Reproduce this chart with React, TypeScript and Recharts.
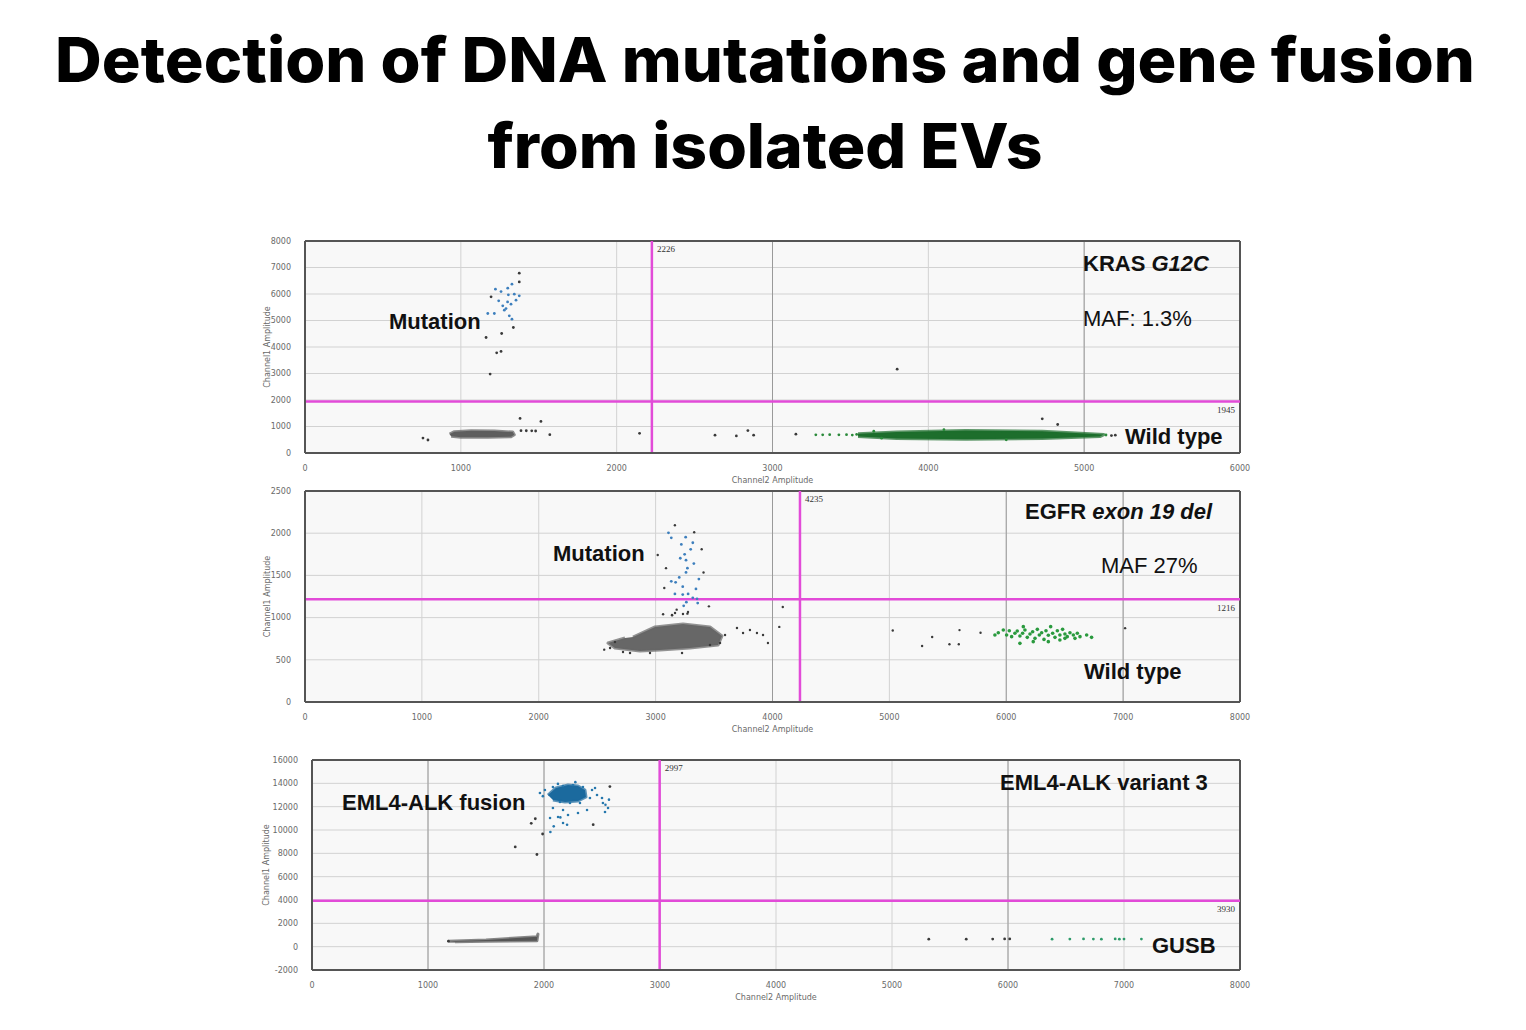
import React from 'react';
import { ScatterChart, Scatter, XAxis, YAxis, CartesianGrid, ReferenceLine } from 'recharts';

type P = [number, number];

// ---- axis ticks ----
const krasXTicks = [0, 1000, 2000, 3000, 4000, 5000, 6000];
const krasYTicks = [0, 1000, 2000, 3000, 4000, 5000, 6000, 7000, 8000];
const egfrXTicks = [0, 1000, 2000, 3000, 4000, 5000, 6000, 7000, 8000];
const egfrYTicks = [0, 500, 1000, 1500, 2000, 2500];
const alkXTicks = [0, 1000, 2000, 3000, 4000, 5000, 6000, 7000, 8000];
const alkYTicks = [-2000, 0, 2000, 4000, 6000, 8000, 10000, 12000, 14000, 16000];

// thresholds [channel2, channel1]
const krasThreshold: P = [2226, 1945];
const egfrThreshold: P = [4235, 1216];
const alkThreshold: P = [2997, 3930];

// ---- KRAS G12C droplets ----
const krasGrayCore: P[] = [
  [928, 716], [959, 804], [1066, 842], [1215, 829], [1333, 791], [1343, 691],
  [1322, 616], [1173, 590], [1002, 590], [938, 628],
];
const krasGrayDots: P[] = [
  [757, 565], [789, 490], [1380, 1306], [1514, 1193], [1386, 842], [1420, 840],
  [1455, 835], [1480, 830], [1571, 691], [2147, 741], [2631, 671], [2768, 646],
  [2842, 848], [2879, 671], [3150, 709], [4731, 1291], [4830, 1076], [3800, 3165],
  [5200, 671], [5175, 658], [1162, 4359], [1230, 3781], [1258, 3832], [1188, 2977],
  [1262, 4510], [1375, 6784], [1375, 6457], [1194, 5892], [1337, 4736],
];
const krasBlueDots: P[] = [
  [1328, 6369], [1301, 6218], [1258, 6093], [1222, 6181], [1305, 5967], [1343, 5992],
  [1375, 5930], [1354, 5766], [1243, 5741], [1269, 5553], [1322, 5616], [1279, 5389],
  [1311, 5176], [1173, 5264], [1215, 5264], [1328, 5050], [1290, 5450], [1300, 5700],
];
const krasGreenCore: P[] = [
  [3549, 722], [3796, 797], [4239, 848], [4732, 823], [4978, 747], [5126, 696],
  [5101, 620], [4732, 544], [4239, 519], [3796, 544], [3549, 620],
];
const krasGreenDots: P[] = [
  [3278, 684], [3322, 684], [3367, 690], [3426, 684], [3475, 690], [3512, 676],
  [3540, 700], [5140, 680], [3650, 820], [3700, 560], [4100, 880], [4500, 500],
];

// ---- EGFR exon 19 del droplets ----
const egfrGrayCore: P[] = [
  [2806, 770], [2995, 889], [3234, 924], [3465, 889], [3568, 782], [3534, 675],
  [3294, 640], [3037, 616], [2866, 604], [2652, 640], [2592, 699], [2738, 758],
];
const egfrGrayDots: P[] = [
  [3140, 1031], [3166, 1055], [3277, 1067], [3234, 1043], [2652, 711], [2721, 592],
  [2781, 581], [2610, 640], [2952, 581], [3226, 581], [3465, 675], [3594, 794],
  [3696, 877], [3748, 818], [3807, 853], [3867, 818], [3919, 794], [3961, 699],
  [3551, 699], [4058, 890], [4088, 1125], [3165, 2094], [3330, 2012], [3018, 1742],
  [3394, 1809], [3089, 1586], [3410, 1535], [3074, 1351], [3456, 1133], [3180, 1094],
  [3141, 1027], [3064, 1039], [3272, 1047], [5029, 848], [5280, 664], [5366, 770],
  [5514, 684], [5600, 852], [5594, 684], [5780, 820], [7017, 875], [2560, 620],
];
const egfrBlueDots: P[] = [
  [3110, 2004], [3257, 1953], [3134, 1945], [3220, 1867], [3318, 1887], [3300, 1809],
  [3248, 1750], [3260, 1680], [3211, 1703], [3327, 1640], [3272, 1586], [3260, 1535],
  [3370, 1457], [3202, 1476], [3134, 1430], [3171, 1418], [3232, 1367], [3345, 1340],
  [3165, 1281], [3232, 1273], [3278, 1281], [3318, 1234], [3354, 1222], [3263, 1183],
  [3360, 1172], [3240, 1140],
];
const egfrGreenDots: P[] = [
  [5903, 794], [5932, 821], [5975, 853], [6003, 794], [6026, 845], [6046, 774],
  [6074, 814], [6094, 841], [6117, 782], [6140, 814], [6160, 853], [6180, 766],
  [6203, 806], [6226, 833], [6246, 754], [6266, 861], [6283, 794], [6303, 821],
  [6323, 742], [6340, 845], [6360, 790], [6380, 893], [6397, 814], [6417, 766],
  [6437, 845], [6459, 794], [6482, 861], [6502, 806], [6522, 774], [6545, 821],
  [6574, 794], [6608, 814], [6631, 774], [6688, 794], [6730, 766], [6146, 893],
  [6360, 715], [6117, 695], [6231, 715], [6459, 735], [6502, 754], [6588, 754],
];

// ---- EML4-ALK variant 3 droplets ----
const alkGrayCore: P[] = [
  [1176, 455], [1500, 580], [1939, 852], [1948, 1080], [1939, 511], [1500, 470], [1233, 426],
];
const alkGrayDots: P[] = [
  [1890, 10568], [1925, 10966], [1988, 9659], [1752, 8551], [1939, 7898], [2568, 13722],
  [2424, 10455], [5317, 640], [5640, 640], [5868, 650], [5971, 660], [6015, 660], [1176, 470],
];
const alkBlueCore: P[] = [
  [2034, 12999], [2103, 13600], [2207, 13857], [2293, 13771], [2353, 13428],
  [2362, 12828], [2293, 12485], [2181, 12399], [2077, 12571],
];
const alkBlueDots: P[] = [
  [1965, 13171], [2008, 13428], [2077, 13685], [2164, 13771], [2250, 13857], [2336, 13685],
  [2414, 13428], [2457, 12999], [2500, 12742], [2396, 12742], [2310, 12313], [2224, 12313],
  [2138, 12399], [2077, 11885], [2164, 11714], [2121, 11114], [2207, 11285], [2052, 11028],
  [2164, 10600], [2293, 11457], [2371, 11714], [2508, 12313], [2552, 11885], [2526, 11542],
  [2199, 10455], [2141, 11080], [2084, 10312], [2055, 9830], [2530, 12159], [1990, 12900],
  [2440, 13600], [2560, 12600], [2270, 14100], [2120, 13950],
];
const alkGreenDots: P[] = [
  [6380, 640], [6533, 650], [6651, 660], [6736, 650], [6805, 640], [6924, 660],
  [6960, 640], [7000, 650], [7150, 650],
];

const toPts = (a: P[]) => a.map(([x, y]) => ({ x, y }));

type Layer = { data: P[]; color: string; blob?: boolean; r?: number };

type PanelProps = {
  left: number;
  top: number;
  width: number;
  height: number;
  xTicks: number[];
  yTicks: number[];
  threshold: P;
  darkX: number[];
  labelOffset: number;
  layers: Layer[];
};

const MAGENTA = '#e24bd8';
const tickStyle = { fontSize: 8, fill: '#6a6a6a', fontFamily: 'DejaVu Sans' };

function Panel({ left, top, width, height, xTicks, yTicks, threshold, darkX, labelOffset, layers }: PanelProps) {
  const xMax = xTicks[xTicks.length - 1];
  const yMax = yTicks[yTicks.length - 1];
  return (
    <div style={{ position: 'absolute', left, top }}>
      <ScatterChart width={width} height={height} margin={{ top: 10, right: 30, bottom: 0, left: 0 }}>
        <CartesianGrid fill="#f8f8f8" stroke="#d2d2d2" />
        <XAxis
          type="number"
          dataKey="x"
          domain={[xTicks[0], xMax]}
          ticks={xTicks}
          interval={0}
          allowDataOverflow
          height={40}
          tickLine={false}
          tickMargin={6}
          axisLine={{ stroke: '#555', strokeWidth: 2 }}
          tick={tickStyle}
          label={{ value: 'Channel2 Amplitude', position: 'insideBottom', offset: 10, style: tickStyle }}
        />
        <YAxis
          type="number"
          dataKey="y"
          domain={[yTicks[0], yMax]}
          ticks={yTicks}
          interval={0}
          allowDataOverflow
          width={60}
          tickLine={false}
          tickMargin={8}
          axisLine={{ stroke: '#555', strokeWidth: 2 }}
          tick={tickStyle}
          label={{
            value: 'Channel1 Amplitude',
            angle: -90,
            position: 'insideLeft',
            offset: labelOffset,
            style: { ...tickStyle, textAnchor: 'middle' },
          }}
        />
        {darkX.map((v) => (
          <ReferenceLine key={v} x={v} stroke="#9a9a9a" strokeWidth={1} />
        ))}
        <ReferenceLine x={xMax} stroke="#555" strokeWidth={2} />
        <ReferenceLine y={yMax} stroke="#555" strokeWidth={2} />
        {layers.map((l, i) =>
          l.blob ? (
            <Scatter
              key={i}
              data={toPts(l.data)}
              fill={l.color}
              isAnimationActive={false}
              line={{ stroke: l.color, fill: l.color, strokeWidth: 3, strokeLinejoin: 'round', strokeOpacity: 0.7 }}
              shape={() => <g />}
            />
          ) : (
            <Scatter
              key={i}
              data={toPts(l.data)}
              fill={l.color}
              isAnimationActive={false}
              shape={(p: any) => <circle cx={p.cx} cy={p.cy} r={l.r ?? 1.4} fill={l.color} />}
            />
          ),
        )}
        <ReferenceLine
          x={threshold[0]}
          stroke={MAGENTA}
          strokeWidth={2.5}
          label={{ value: String(threshold[0]), position: 'insideTopLeft', fontSize: 9, fill: '#333' }}
        />
        <ReferenceLine
          y={threshold[1]}
          stroke={MAGENTA}
          strokeWidth={2.5}
          label={{ value: String(threshold[1]), position: 'insideTopRight', fontSize: 9, fill: '#333' }}
        />
      </ScatterChart>
    </div>
  );
}

const GRAY = '#5e5e5e';
const DARK = '#3a3a3a';

export default function App() {
  const ann = { fontFamily: '"Liberation Sans", Arial, sans-serif', fontSize: 22, fill: '#111' };
  return (
    <div style={{ position: 'absolute', left: 0, top: 0, width: 1526, height: 1030, background: '#fff' }}>
      <Panel
        left={245}
        top={231}
        width={1025}
        height={262}
        xTicks={krasXTicks}
        yTicks={krasYTicks}
        threshold={krasThreshold}
        darkX={[3000, 5000]}
        labelOffset={22}
        layers={[
          { data: krasGrayCore, color: GRAY, blob: true },
          { data: krasGrayDots, color: DARK },
          { data: krasBlueDots, color: '#3d7fbd' },
          { data: krasGreenCore, color: '#1d6e2c', blob: true },
          { data: krasGreenDots, color: '#2a8a3a' },
        ]}
      />
      <Panel
        left={245}
        top={481}
        width={1025}
        height={261}
        xTicks={egfrXTicks}
        yTicks={egfrYTicks}
        threshold={egfrThreshold}
        darkX={[4000, 6000, 7000]}
        labelOffset={22}
        layers={[
          { data: egfrGrayCore, color: '#676767', blob: true },
          { data: egfrGrayDots, color: DARK, r: 1.2 },
          { data: egfrBlueDots, color: '#3d7fbd' },
          { data: egfrGreenDots, color: '#2a9a3e', r: 1.8 },
        ]}
      />
      <Panel
        left={252}
        top={750}
        width={1018}
        height={260}
        xTicks={alkXTicks}
        yTicks={alkYTicks}
        threshold={alkThreshold}
        darkX={[1000, 2000, 6000]}
        labelOffset={14}
        layers={[
          { data: alkGrayCore, color: '#555', blob: true },
          { data: alkGrayDots, color: DARK },
          { data: alkBlueCore, color: '#1b6a9e', blob: true },
          { data: alkBlueDots, color: '#2577ad', r: 1.3 },
          { data: alkGreenDots, color: '#2e9b6a' },
        ]}
      />
      <svg
        width={1526}
        height={1030}
        style={{ position: 'absolute', left: 0, top: 0, pointerEvents: 'none' }}
      >
        <g style={{ fontFamily: 'Inter, "Noto Sans", sans-serif', fontWeight: 800 }} fill="#000">
          <text x={765} y={82} fontSize={62} textAnchor="middle" textLength={1420} lengthAdjust="spacingAndGlyphs">
            Detection of DNA mutations and gene fusion
          </text>
          <text x={765} y={168} fontSize={62} textAnchor="middle" textLength={555} lengthAdjust="spacingAndGlyphs">
            from isolated EVs
          </text>
        </g>
        <g {...ann}>
          <text x={389} y={329} fontWeight={700}>Mutation</text>
          <text x={1083} y={271} fontWeight={700}>
            KRAS <tspan fontStyle="italic">G12C</tspan>
          </text>
          <text x={1083} y={326}>MAF: 1.3%</text>
          <text x={1125} y={444} fontWeight={700}>Wild type</text>

          <text x={553} y={561} fontWeight={700}>Mutation</text>
          <text x={1025} y={519} fontWeight={700}>
            EGFR <tspan fontStyle="italic">exon 19 del</tspan>
          </text>
          <text x={1101} y={573}>MAF 27%</text>
          <text x={1084} y={679} fontWeight={700}>Wild type</text>

          <text x={342} y={810} fontWeight={700}>EML4-ALK fusion</text>
          <text x={1000} y={790} fontWeight={700}>EML4-ALK variant 3</text>
          <text x={1152} y={953} fontWeight={700}>GUSB</text>
        </g>
      </svg>
    </div>
  );
}
